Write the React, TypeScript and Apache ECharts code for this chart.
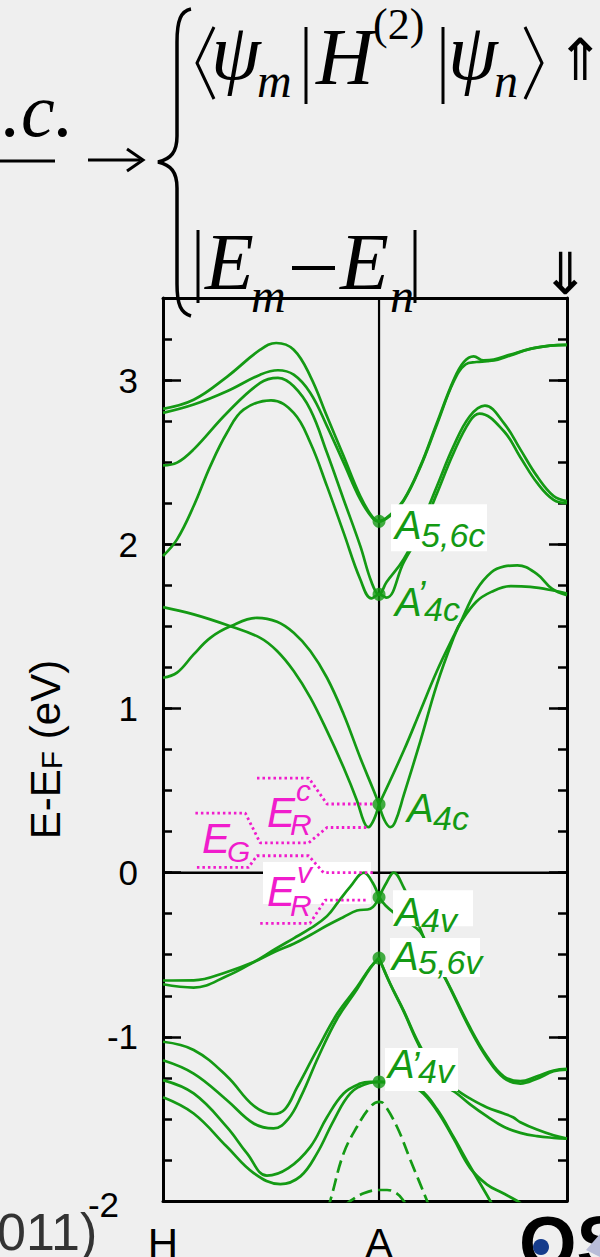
import React, { useEffect, useRef } from 'react';
import * as echarts from 'echarts';

// ---------------- data ----------------
const xTickKs = [0, 1];
const xTickNames = ['H', 'A'];
const kMax = 1.87;
const eMin = -2;
const eMax = 3.5;

// conduction bands (continuous through A)
const c1 = [[0, 2.825], [0.142, 2.88], [0.296, 3.02], [0.45, 3.185], [0.524, 3.226], [0.605, 3.185], [0.682, 3.023], [0.759, 2.78], [0.836, 2.537], [0.913, 2.293], [0.97, 2.165], [1, 2.14], [1.052, 2.18], [1.114, 2.27], [1.191, 2.476], [1.268, 2.74], [1.345, 3.0], [1.392, 3.11], [1.438, 3.145], [1.484, 3.12], [1.531, 3.125], [1.608, 3.155], [1.7, 3.19], [1.793, 3.21], [1.87, 3.215]];
const c2 = [[0, 2.8], [0.142, 2.851], [0.296, 2.932], [0.45, 3.033], [0.532, 3.06], [0.605, 3.033], [0.682, 2.922], [0.759, 2.72], [0.836, 2.497], [0.913, 2.273], [0.97, 2.16], [1, 2.14], [1.052, 2.175], [1.114, 2.265], [1.191, 2.47], [1.268, 2.73], [1.345, 2.99], [1.4, 3.095], [1.45, 3.11], [1.5, 3.115], [1.55, 3.125], [1.608, 3.15], [1.7, 3.19], [1.793, 3.21], [1.87, 3.215]];
const c3 = [[0, 2.48], [0.065, 2.497], [0.142, 2.578], [0.296, 2.8], [0.45, 2.983], [0.532, 3.013], [0.605, 2.962], [0.682, 2.82], [0.759, 2.557], [0.836, 2.273], [0.913, 1.99], [0.965, 1.77], [1, 1.695], [1.035, 1.77], [1.114, 1.909], [1.191, 2.111], [1.268, 2.354], [1.345, 2.598], [1.42, 2.78], [1.49, 2.845], [1.577, 2.74], [1.654, 2.578], [1.731, 2.415], [1.808, 2.294], [1.87, 2.263]];
const c4 = [[0, 1.929], [0.065, 2.03], [0.142, 2.233], [0.219, 2.476], [0.296, 2.679], [0.373, 2.82], [0.5, 2.877], [0.605, 2.8], [0.682, 2.618], [0.759, 2.354], [0.836, 2.071], [0.913, 1.787], [0.965, 1.67], [1, 1.695], [1.035, 1.675], [1.114, 1.89], [1.191, 2.07], [1.268, 2.31], [1.345, 2.557], [1.42, 2.75], [1.465, 2.796], [1.577, 2.69], [1.654, 2.53], [1.731, 2.375], [1.808, 2.27], [1.87, 2.25]];

// bands with a cusp at A (left half / right half)
const m1Left = [[0, 1.617], [0.142, 1.573], [0.296, 1.508], [0.45, 1.43], [0.528, 1.35], [0.605, 1.228], [0.682, 1.066], [0.759, 0.863], [0.836, 0.64], [0.898, 0.438], [0.93, 0.31], [0.95, 0.277], [0.975, 0.32], [1, 0.416]];
const m1Right = [[1, 0.416], [1.025, 0.32], [1.052, 0.277], [1.075, 0.31], [1.114, 0.47], [1.191, 0.8], [1.268, 1.147], [1.345, 1.43], [1.376, 1.52], [1.45, 1.72], [1.52, 1.83], [1.58, 1.865], [1.64, 1.872], [1.73, 1.82], [1.8, 1.73], [1.87, 1.69]];
const m2Left = [[0, 1.187], [0.065, 1.218], [0.142, 1.329], [0.219, 1.43], [0.312, 1.5], [0.435, 1.552], [0.528, 1.528], [0.605, 1.461], [0.682, 1.35], [0.759, 1.187], [0.836, 0.965], [0.913, 0.7], [0.975, 0.5], [1, 0.416]];
const m2Right = [[1, 0.416], [1.114, 0.742], [1.191, 0.985], [1.268, 1.228], [1.345, 1.44], [1.376, 1.52], [1.45, 1.65], [1.52, 1.71], [1.61, 1.745], [1.7, 1.74], [1.8, 1.72], [1.87, 1.7]];
const v1Left = [[0, -0.68], [0.142, -0.7], [0.296, -0.63], [0.42, -0.545], [0.52, -0.465], [0.605, -0.4], [0.682, -0.34], [0.759, -0.265], [0.813, -0.175], [0.867, -0.085], [0.93, 0.0], [0.97, -0.06], [1, -0.15]];
const v1Right = [[1, -0.15], [1.035, -0.06], [1.068, 0.0], [1.114, -0.09], [1.15, -0.2], [1.19, -0.34], [1.23, -0.46], [1.31, -0.65], [1.42, -0.94], [1.5, -1.12], [1.577, -1.24], [1.654, -1.27], [1.731, -1.24], [1.808, -1.205], [1.87, -1.195]];
const v2Left = [[0, -0.657], [0.142, -0.656], [0.296, -0.605], [0.42, -0.545], [0.52, -0.48], [0.605, -0.433], [0.682, -0.38], [0.759, -0.322], [0.836, -0.27], [0.898, -0.231], [0.96, -0.22], [1, -0.15]];
const v2Right = [[1, -0.15], [1.03, -0.2], [1.07, -0.245], [1.12, -0.29], [1.19, -0.36], [1.23, -0.465], [1.31, -0.655], [1.42, -0.95], [1.5, -1.13], [1.577, -1.25], [1.654, -1.285], [1.731, -1.255], [1.808, -1.21], [1.87, -1.2]];
const l1Left = [[0, -1.03], [0.142, -1.08], [0.296, -1.24], [0.42, -1.42], [0.512, -1.47], [0.565, -1.44], [0.62, -1.31], [0.713, -1.08], [0.806, -0.86], [0.898, -0.697], [0.96, -0.576], [1, -0.52]];
const l1Right = [[1, -0.52], [1.052, -0.677], [1.114, -0.84], [1.176, -1.02], [1.25, -1.19], [1.31, -1.285], [1.36, -1.325], [1.42, -1.375], [1.5, -1.43], [1.577, -1.467], [1.62, -1.49], [1.654, -1.52], [1.731, -1.565], [1.808, -1.6], [1.87, -1.62]];
const l2Left = [[0, -1.143], [0.142, -1.224], [0.296, -1.386], [0.42, -1.528], [0.512, -1.558], [0.58, -1.5], [0.64, -1.36], [0.72, -1.12], [0.806, -0.89], [0.898, -0.71], [0.96, -0.58], [1, -0.52]];
const l2Right = [[1, -0.52], [1.052, -0.68], [1.114, -0.845], [1.176, -1.03], [1.25, -1.21], [1.31, -1.3], [1.36, -1.345], [1.42, -1.41], [1.5, -1.485], [1.577, -1.548], [1.654, -1.585], [1.731, -1.605], [1.808, -1.615], [1.87, -1.62]];
// deep valence bands (continuous through A)
const l3 = [[0, -1.264], [0.142, -1.345], [0.296, -1.55], [0.389, -1.71], [0.481, -1.846], [0.58, -1.8], [0.682, -1.67], [0.759, -1.49], [0.836, -1.345], [0.913, -1.285], [0.96, -1.275], [1, -1.275], [1.057, -1.277], [1.114, -1.28], [1.191, -1.32], [1.268, -1.44], [1.345, -1.61], [1.422, -1.79], [1.515, -2.0], [1.53, -2.04]];
const l4 = [[0, -1.368], [0.142, -1.467], [0.296, -1.67], [0.42, -1.83], [0.543, -1.897], [0.636, -1.85], [0.713, -1.71], [0.79, -1.51], [0.867, -1.345], [0.944, -1.285], [1, -1.275], [1.057, -1.278], [1.114, -1.285], [1.191, -1.33], [1.268, -1.45], [1.345, -1.62], [1.422, -1.8], [1.5, -1.9], [1.57, -1.95], [1.64, -2.0], [1.66, -2.02]];
// dashed bands
const d1 = [[0.76, -2.05], [0.775, -1.994], [0.836, -1.71], [0.898, -1.548], [0.96, -1.426], [1, -1.396], [1.021, -1.406], [1.083, -1.548], [1.145, -1.75], [1.222, -1.999], [1.235, -2.05]];
const d2 = [[0.84, -2.03], [0.867, -2.0], [0.929, -1.953], [1, -1.933], [1.037, -1.933], [1.083, -1.955], [1.114, -2.0], [1.13, -2.03]];

// marked points at A
const dotK = 1;
const dotEnergies = [2.14, 1.695, 0.416, -0.15, -0.52, -1.275];
const dotSubs = ['5,6c', '4c', '4c', '4v', '5,6v', '4v'];
const dotPrimes = [false, true, false, false, false, true];

// magenta bracket guides (k, E)
const erTop = [[0.435, 0.576], [0.675, 0.576], [0.759, 0.418], [0.975, 0.418]];
const egTop = [[0.15, 0.363], [0.381, 0.363], [0.45, 0.181], [0.674, 0.181], [0.759, 0.275], [0.952, 0.275]];
const egBot = [[0.157, 0.032], [0.396, 0.032], [0.435, 0.103], [0.674, 0.103], [0.743, 0.0], [0.975, 0.0]];
const ervBot = [[0.45, -0.309], [0.68, -0.309], [0.751, -0.167], [0.952, -0.167]];

// ---------------- styling ----------------
const GREEN = '#149a14';
const MAG = '#f01ccc';
const SANS = '"Liberation Sans", Arial, sans-serif';
const SERIF = '"Liberation Serif", "DejaVu Serif", serif';
const BG = '#efefef';

echarts.graphic.registerShape(
  'brace',
  echarts.graphic.extendPath(
    'M191,9 C181,11 177,20 177,42 L177,136 C177,152 171,159 158,162 C171,165 177,172 177,188 L177,284 C177,305 181,313 191,316',
    {}
  )
);

function txt(x: number, base: number, text: string, size: number, family: string, style = 'normal', color = '#000', z = 8, weight = 'normal') {
  return {
    type: 'text',
    z,
    silent: true,
    style: {
      text,
      x,
      y: base - 0.345 * size,
      font: `${style} ${weight} ${size}px ${family}`,
      fill: color,
      align: 'left',
      verticalAlign: 'middle',
      textAlign: 'left',
      textVerticalAlign: 'middle',
    },
  };
}
function seg(x1: number, y1: number, x2: number, y2: number, w = 3) {
  return { type: 'line', z: 8, silent: true, shape: { x1, y1, x2, y2 }, style: { stroke: '#000', lineWidth: w } };
}
function pline(points: number[][], w = 3) {
  return { type: 'polyline', z: 8, silent: true, shape: { points }, style: { stroke: '#000', lineWidth: w, fill: null } };
}

const staticGraphic: any[] = [
  // formula at top
  { type: 'brace', x: 0, y: 0, z: 8, silent: true, style: { stroke: '#000', lineWidth: 3.5, fill: null } },
  pline([[214, 27], [197, 63], [214, 99]]),
  txt(211, 80, 'ψ', 80, SERIF, 'italic'),
  txt(257, 97, 'm', 48, SERIF, 'italic'),
  seg(306, 27, 306, 104),
  txt(316, 85, 'H', 80, SERIF, 'italic'),
  txt(373, 40, '(2)', 44, SERIF),
  seg(443, 27, 443, 104),
  txt(448, 80, 'ψ', 80, SERIF, 'italic'),
  txt(494, 97, 'n', 48, SERIF, 'italic'),
  pline([[525, 27], [542, 63], [525, 99]]),
  txt(556, 80, '⇑', 58, '"DejaVu Sans"'),
  seg(198, 230, 198, 303),
  txt(205, 290, 'E', 80, SERIF, 'italic'),
  txt(251, 312, 'm', 48, SERIF, 'italic'),
  seg(292, 268, 335, 268, 4),
  txt(340, 290, 'E', 80, SERIF, 'italic'),
  txt(390, 312, 'n', 48, SERIF, 'italic'),
  seg(415, 230, 415, 303),
  txt(541, 294, '⇓', 58, '"DejaVu Sans"'),
  txt(2, 136, '.c.', 76, SERIF, 'italic'),
  seg(0, 161, 55, 161, 3),
  seg(88, 160, 140, 160, 3),
  pline([[127, 149], [143, 160], [127, 171]]),
  // bottom decorations
  txt(-3, 1250, '011)', 52, SANS, 'normal', '#333'),
  txt(519, 1268, 'QS', 74, SANS, 'normal', '#000', 8, 'bold'),
  { type: 'circle', z: 9, silent: true, shape: { cx: 541, cy: 1247, r: 8 }, style: { fill: '#163c8c' } },
  { type: 'polygon', z: 9, silent: true, shape: { points: [[600, 1234], [586, 1250], [600, 1257]] }, style: { fill: '#b8bcd8' } },
  // E_R^v backdrop
  { type: 'rect', z: 2, silent: true, shape: { x: 263, y: 862, width: 108, height: 42 }, style: { fill: '#ffffff' } },
  // magenta labels
  txt(267, 827, 'E', 42, SANS, 'italic', MAG),
  txt(290, 835, 'R', 30, SANS, 'italic', MAG),
  txt(296, 801, 'c', 30, SANS, 'italic', MAG),
  txt(202, 853, 'E', 42, SANS, 'italic', MAG),
  txt(227, 862, 'G', 30, SANS, 'italic', MAG),
  txt(267, 906, 'E', 42, SANS, 'italic', MAG),
  txt(290, 916, 'R', 30, SANS, 'italic', MAG),
  txt(297, 883, 'v', 30, SANS, 'italic', MAG),
];

// label placement relative to each marked point (pixels)
const labelLayout = [
  { ax: 16, ab: 18, sx: 42, sb: 25, px: 0, pb: 0, box: [12, -17, 96, 47] },
  { ax: 16, ab: 21, sx: 45, sb: 26, px: 38, pb: 14, box: null },
  { ax: 28, ab: 17, sx: 54, sb: 25, px: 0, pb: 0, box: null },
  { ax: 16, ab: 29, sx: 42, sb: 34, px: 0, pb: 0, box: [14, -7, 80, 36] },
  { ax: 13, ab: 12, sx: 39, sb: 16, px: 0, pb: 0, box: [11, -20, 90, 39] },
  { ax: 9, ab: -4, sx: 39, sb: 1, px: 32, pb: -3, box: [6, -34, 73, 43] },
];

const solidBands = [c1, c2, c3, c4, m1Left, m1Right, m2Left, m2Right, v1Left, v1Right, v2Left, v2Right, l1Left, l1Right, l2Left, l2Right, l3, l4];
const dashedBands = [d1, d2];
const brackets = [erTop, egTop, egBot, ervBot];

function buildOption(): any {
  const series: any[] = [];
  // reference lines: Fermi level and A point
  series.push({ type: 'line', data: [[0, 0], [kMax, 0]], z: 1, silent: true, showSymbol: false, lineStyle: { color: '#000', width: 2.5 } });
  series.push({ type: 'line', data: [[dotK, eMin], [dotK, eMax]], z: 1, silent: true, showSymbol: false, lineStyle: { color: '#000', width: 2.2 } });
  solidBands.forEach((d) =>
    series.push({ type: 'line', data: d, smooth: 0.4, showSymbol: false, silent: true, z: 3, clip: true, lineStyle: { color: GREEN, width: 2.7 } })
  );
  dashedBands.forEach((d) =>
    series.push({ type: 'line', data: d, smooth: 0.4, showSymbol: false, silent: true, z: 3, clip: true, lineStyle: { color: GREEN, width: 2.7, type: [13, 6] } })
  );
  brackets.forEach((d) =>
    series.push({ type: 'line', data: d, smooth: false, showSymbol: false, silent: true, z: 4, lineStyle: { color: MAG, width: 2.8, type: [2.5, 3] } })
  );
  series.push({ type: 'scatter', data: dotEnergies.map((e) => [dotK, e]), symbolSize: 13, silent: true, z: 6, itemStyle: { color: GREEN } });

  const yBase = { type: 'value', min: eMin, max: eMax, splitLine: { show: false }, axisLine: { show: true, onZero: false, lineStyle: { color: '#000', width: 3 } } };
  return {
    animation: false,
    backgroundColor: BG,
    grid: { left: 163, top: 298, width: 404, height: 903, containLabel: false, outerBoundsMode: 'none' },
    xAxis: [
      {
        type: 'value', min: 0, max: kMax, interval: 1, position: 'bottom',
        axisLine: { show: true, onZero: false, lineStyle: { color: '#000', width: 3 } },
        axisTick: { show: false }, splitLine: { show: false },
        axisLabel: {
          margin: 21, fontSize: 42, fontFamily: SANS, color: '#000', showMinLabel: true, showMaxLabel: true,
          formatter: (v: number) => { const i = xTickKs.findIndex((t) => Math.abs(t - v) < 1e-6); return i >= 0 ? xTickNames[i] : ''; },
        },
      },
      {
        type: 'value', min: 0, max: kMax, position: 'top',
        axisLine: { show: true, onZero: false, lineStyle: { color: '#000', width: 3 } },
        axisTick: { show: false }, axisLabel: { show: false }, splitLine: { show: false },
      },
    ],
    yAxis: [
      {
        ...yBase, interval: 1, position: 'left',
        axisTick: { show: true, inside: true, length: 18, lineStyle: { color: '#000', width: 2.5 } },
        axisLabel: {
          margin: 25, fontSize: 35, fontFamily: SANS, color: '#000', showMinLabel: true, showMaxLabel: true,
          formatter: (v: number) => (v > 3.01 ? '' : v === -2 ? '{n|-2}' : String(v)),
          rich: { n: { fontSize: 35, fontFamily: SANS, color: '#000', padding: [6, 19, 0, 0] } },
        },
        name: '{a|E-E}{b|F}{a| (eV)}', nameLocation: 'middle', nameGap: 97, nameRotate: 90, nameMoveOverlap: false,
        nameTextStyle: {
          fontSize: 42, fontFamily: SANS, color: '#000',
          rich: {
            a: { fontSize: 42, fontFamily: SANS, color: '#000' },
            b: { fontSize: 30, fontFamily: SANS, color: '#000', lineHeight: 16, verticalAlign: 'bottom' },
          },
        },
      },
      { ...yBase, interval: 0.25, position: 'left', axisLine: { show: false, onZero: false }, axisLabel: { show: false }, axisTick: { show: true, inside: true, length: 9, lineStyle: { color: '#000', width: 2.5 } } },
      { ...yBase, interval: 1, position: 'right', axisLabel: { show: false }, axisTick: { show: true, inside: true, length: 18, lineStyle: { color: '#000', width: 2.5 } } },
      { ...yBase, interval: 0.25, position: 'right', axisLine: { show: false, onZero: false }, axisLabel: { show: false }, axisTick: { show: true, inside: true, length: 9, lineStyle: { color: '#000', width: 2.5 } } },
    ],
    series,
  };
}

export default function App() {
  const ref = useRef<HTMLDivElement>(null);
  useEffect(() => {
    if (!ref.current) return;
    const chart = echarts.init(ref.current, undefined, { renderer: 'svg' });
    chart.setOption(buildOption());
    const labelEls: any[] = [];
    dotEnergies.forEach((e, i) => {
      const p = chart.convertToPixel({ xAxisIndex: 0, yAxisIndex: 0 }, [dotK, e]) as number[];
      const L = labelLayout[i];
      const [px, py] = p;
      if (L.box) {
        labelEls.push({ type: 'rect', z: 5, silent: true, shape: { x: px + L.box[0], y: py + L.box[1], width: L.box[2], height: L.box[3] }, style: { fill: '#ffffff' } });
      }
      labelEls.push(txt(px + L.ax, py + L.ab, 'A', 40, SANS, 'italic', GREEN, 8));
      if (dotPrimes[i]) labelEls.push(txt(px + L.px, py + L.pb, '’', 38, SANS, 'italic', GREEN, 8));
      labelEls.push(txt(px + L.sx, py + L.sb, dotSubs[i], 34, SANS, 'italic', GREEN, 8));
    });
    chart.setOption({ graphic: { elements: [...staticGraphic, ...labelEls] } });
    return () => chart.dispose();
  }, []);
  return <div ref={ref} style={{ position: 'absolute', left: 0, top: 0, width: 600, height: 1257 }} />;
}
